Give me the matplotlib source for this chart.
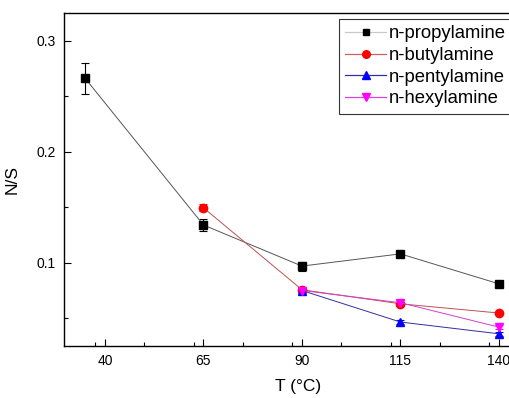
import matplotlib
matplotlib.use("Agg")
import matplotlib.pyplot as plt
from matplotlib.ticker import MultipleLocator
from matplotlib.lines import Line2D

plt.rcParams['font.family'] = ['Liberation Sans', 'DejaVu Sans']

T_prop = [35, 65, 90, 115, 140]
NS_prop = [0.266, 0.134, 0.097, 0.108, 0.081]
err_prop = [0.014, 0.005, 0.004, 0.003, 0.002]

T_but = [65, 90, 115, 140]
NS_but = [0.1495, 0.0757, 0.063, 0.0547]
err_but = [0.003, 0.002, 0.002, 0.001]

T_pent = [90, 115, 140]
NS_pent = [0.075, 0.0466, 0.036]
err_pent = [0.002, 0.002, 0.002]

T_hex = [90, 115, 140]
NS_hex = [0.075, 0.064, 0.042]
err_hex = [0.002, 0.002, 0.002]

x_ticks = [40, 65, 90, 115, 140]
y_ticks = [0.1, 0.2, 0.3]

fig = plt.figure(figsize=(5.09, 3.98), dpi=100)
ax = fig.add_axes([64/509, 52/398, 468/509, 333/398])

series = [
    (T_prop, NS_prop, err_prop, 'n-propylamine', 'black', '#555555', '#c8c8c8', 's'),
    (T_but, NS_but, err_but, 'n-butylamine', 'red', '#c05050', '#d06060', 'o'),
    (T_pent, NS_pent, err_pent, 'n-pentylamine', 'blue', '#3030a0', '#3030a0', '^'),
    (T_hex, NS_hex, err_hex, 'n-hexylamine', 'magenta', '#d040d0', '#e040e0', 'v'),
]
handles = []
for x, y, e, lab, mc, lc, legc, m in series:
    ax.errorbar(x, y, yerr=e, color=lc, ecolor=mc, elinewidth=0.8, capsize=3,
                capthick=0.8, marker=m, markersize=6, markerfacecolor=mc,
                markeredgecolor=mc, linewidth=0.7)
    handles.append(Line2D([], [], color=legc, marker=m,
                          markersize=4 if m == 's' else 5.5,
                          markerfacecolor=mc, markeredgecolor=mc, linewidth=0.9,
                          label=lab))

ax.set_xlim(29.6, 148.4)
ax.set_ylim(0.025, 0.325)
ax.set_xticks(x_ticks)
ax.set_yticks(y_ticks)
ax.set_yticklabels(['0.1', '0.2', '0.3'])
ax.xaxis.set_minor_locator(MultipleLocator(12.5))
ax.yaxis.set_minor_locator(MultipleLocator(0.05))
ax.tick_params(which='both', direction='in', labelsize=10, top=False, right=False)
ax.tick_params(which='major', length=5, width=0.8, pad=6)
ax.tick_params(which='minor', length=3, width=0.8)
for s in ax.spines.values():
    s.set_linewidth(1.0)

ax.set_xlabel('T (°C)', fontsize=12.5, labelpad=8)
ax.set_ylabel('N/S', fontsize=12.5, labelpad=12)

leg = ax.legend(handles=handles, loc='upper left', bbox_to_anchor=(339/509, 1-19/398),
                bbox_transform=fig.transFigure, fontsize=13.3, frameon=True,
                fancybox=False, edgecolor='black', borderpad=0.35, labelspacing=0.25,
                handlelength=2.2, handletextpad=0.15, borderaxespad=0)
leg.get_frame().set_linewidth(0.8)

fig.savefig('out.png', dpi=100)
